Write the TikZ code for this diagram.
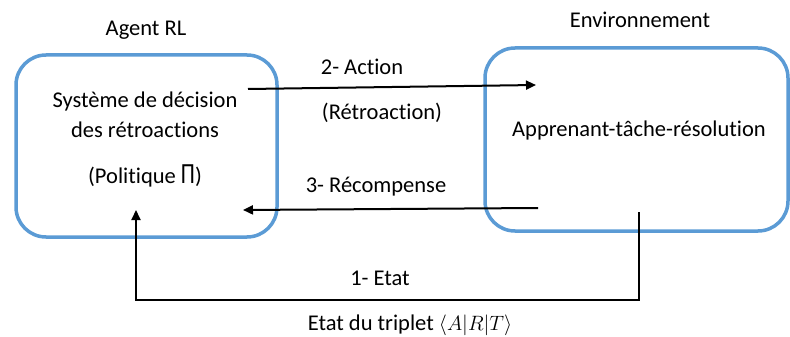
\documentclass[tikz,border=0pt]{standalone}
\usepackage{fontspec}
\setmainfont[Ligatures=NoCommon]{Carlito}
\usetikzlibrary{arrows.meta}
\definecolor{boxblue}{RGB}{91,155,213}
\tikzset{
  panel/.style={draw=boxblue, line width=3.5pt, rounded corners=30pt, inner sep=0pt},
  lbl/.style={font=\fontsize{22.5}{25}\selectfont, inner sep=0pt, anchor=center},
  flow/.style={line width=2pt, -{Triangle[length=10pt,width=9pt]}}
}
\begin{document}
\begin{tikzpicture}[x=1pt,y=-1pt]
\useasboundingbox (0,0) rectangle (790,337);
\node[panel, minimum width=261pt, minimum height=182pt] (agent) at (146.5,146) {};
\node[panel, minimum width=303pt, minimum height=183pt] (env) at (636.5,139.5) {};
\node[lbl] (agenttitle) at (146,30) {Agent RL};
\node[lbl] (envtitle) at (640,20) {Environnement};
\node[lbl] (sys1) at (145,102) {Système de décision};
\node[lbl] (sys2) at (145,130) {des rétroactions};
\node[lbl] (pol) at (145,176) {(Politique \raisebox{-0.5pt}{\scalebox{1}[1.3]{Π}})};
\node[lbl] (envtext) at (639,131) {Apprenant-tâche-résolution};
\node[lbl] (act) at (362,67) {2- Action};
\node[lbl] (retro) at (382,113) {(Rétroaction)};
\node[lbl] (rec) at (376,187) {3- Récompense};
\node[lbl] (etat) at (380,278) {1- Etat};
\node[lbl] (trip) at (410,325) {Etat du triplet $\langle A|R|T\rangle$};
\coordinate (actS) at (248,89);
\coordinate (actE) at (536,85);
\coordinate (recS) at (538,208);
\coordinate (recE) at (243,210);
\coordinate (stS) at (639,212);
\coordinate (stB) at (639,300);
\coordinate (stC) at (136,300);
\coordinate (stE) at (136,210);
\draw[flow] (actS) -- (actE);
\draw[flow] (recS) -- (recE);
\draw[flow] (stS) -- (stB) -- (stC) -- (stE);
\end{tikzpicture}
\end{document}
